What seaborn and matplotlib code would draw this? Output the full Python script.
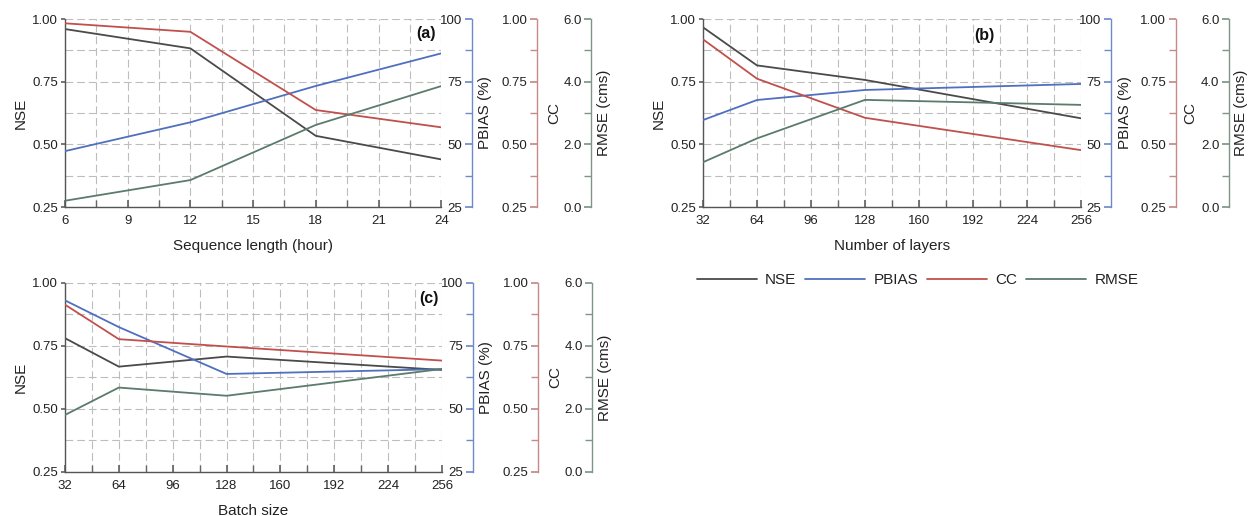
import numpy as np
import pandas as pd
import matplotlib
matplotlib.use("Agg")
import matplotlib.pyplot as plt
import seaborn as sns
from matplotlib.ticker import MultipleLocator, FormatStrFormatter
from matplotlib.lines import Line2D

# ---------------- data ----------------
seq_len = [6, 12, 18, 24]
nse_a = [0.960, 0.883, 0.534, 0.440]
pbias_a = [47.3, 58.8, 73.3, 86.3]
cc_a = [0.983, 0.949, 0.637, 0.568]
rmse_a = [0.20, 0.86, 2.62, 3.86]

layers = [32, 64, 128, 256]
nse_b = [0.967, 0.815, 0.757, 0.604]
pbias_b = [59.7, 67.7, 71.7, 74.1]
cc_b = [0.919, 0.762, 0.606, 0.477]
rmse_b = [1.43, 2.19, 3.42, 3.26]

batch = [32, 64, 128, 256]
nse_c = [0.781, 0.668, 0.708, 0.655]
pbias_c = [93.1, 82.5, 63.9, 65.8]
cc_c = [0.914, 0.777, 0.748, 0.692]
rmse_c = [1.81, 2.68, 2.42, 3.27]

series_names = ["NSE", "PBIAS", "CC", "RMSE"]

# ---------------- style ----------------
sns.set_theme(style="white")
plt.rcParams["font.family"] = ["Liberation Sans", "DejaVu Sans"]

C_NSE = "#4a4a4a"
C_PB = "#4f6fbf"
C_CC = "#c0504d"
C_RM = "#5b7b6b"
C_PB_SP = "#6f8acb"
C_CC_SP = "#c68a88"
C_RM_SP = "#7f9588"
GRID = "#bdbdbd"
TXT = "#222222"
LW = 1.3
TICK_FS = 9.5
LAB_FS = 11

fig = plt.figure(figsize=(12.52, 5.16), dpi=100)


def panel(rect, x, nse, pbias, cc, rmse, xmaj, xlabel, tag, tagpos, extra_pos):
    ax = fig.add_axes(rect)
    ax.set_facecolor("white")
    df = pd.DataFrame({"x": x, "NSE": nse})
    sns.lineplot(data=df, x="x", y="NSE", ax=ax, color=C_NSE, lw=LW)
    ax.set_xlim(x[0], x[-1])
    ax.set_ylim(0.25, 1.0)
    ax.xaxis.set_major_locator(MultipleLocator(xmaj))
    ax.xaxis.set_minor_locator(MultipleLocator(xmaj / 2))
    ax.yaxis.set_major_locator(MultipleLocator(0.25))
    ax.yaxis.set_minor_locator(MultipleLocator(0.125))
    ax.yaxis.set_major_formatter(FormatStrFormatter("%.2f"))
    ax.grid(True, which="both", color=GRID, lw=0.8, linestyle=(0, (7, 3.5)))
    for s in ["top", "right"]:
        ax.spines[s].set_visible(False)
    for s in ["left", "bottom"]:
        ax.spines[s].set_color("#555555")
        ax.spines[s].set_linewidth(1.0)
    ax.set_xlabel(xlabel, fontsize=LAB_FS, color=TXT, labelpad=9)
    ax.set_ylabel("NSE", fontsize=LAB_FS, color=TXT, labelpad=3)
    ax.text(tagpos[0], tagpos[1], tag, transform=ax.transAxes, ha="right", va="center",
            fontsize=11.5, fontweight="bold", color="#111111")

    specs = [
        (pbias, (25, 100), 25, "%d", C_PB, C_PB_SP, "PBIAS (%)", extra_pos[0]),
        (cc, (0.25, 1.0), 0.25, "%.2f", C_CC, C_CC_SP, "CC", extra_pos[1]),
        (rmse, (0.0, 6.0), 2.0, "%.1f", C_RM, C_RM_SP, "RMSE (cms)", extra_pos[2]),
    ]
    for vals, lim, maj, fmt, col, spcol, lab, (sx, lx) in specs:
        t = ax.twinx()
        d = pd.DataFrame({"x": x, "v": vals})
        sns.lineplot(data=d, x="x", y="v", ax=t, color=col, lw=LW)
        t.set_ylim(*lim)
        t.set_xlim(x[0], x[-1])
        for s in t.spines.values():
            s.set_visible(False)
        t.spines["left"].set_visible(True)
        t.spines["left"].set_position(("axes", sx))
        t.spines["left"].set_color(spcol)
        t.spines["left"].set_linewidth(1.0)
        t.yaxis.set_ticks_position("left")
        t.yaxis.set_major_locator(MultipleLocator(maj))
        t.yaxis.set_minor_locator(MultipleLocator(maj / 2))
        t.yaxis.set_major_formatter(FormatStrFormatter(fmt))
        t.tick_params(axis="y", which="both", direction="out", length=5, color=spcol,
                      labelsize=TICK_FS, labelcolor=TXT, pad=2)
        t.grid(False)
        t.set_ylabel(lab, fontsize=LAB_FS, color=TXT)
        t.yaxis.set_label_coords(lx, 0.5)
        t.set_xlabel("")

    # main-axis ticks (set after twinx, which resets tick positions)
    ax.tick_params(axis="x", which="both", direction="in", length=5, color="#666666",
                   labelsize=TICK_FS, labelcolor=TXT, bottom=True, top=False, pad=5.5)
    ax.tick_params(axis="y", which="major", direction="out", length=3, color="#666666",
                   labelsize=TICK_FS, labelcolor=TXT, left=True, right=False, pad=2)
    ax.tick_params(axis="y", which="minor", left=False, right=False, length=0)
    return ax


W = 0.3005
panel([0.0519, 0.5988, W, 0.3643], seq_len, nse_a, pbias_a, cc_a, rmse_a, 3,
      "Sequence length (hour)", "(a)", (0.985, 0.925),
      [(1.082, 1.098), (1.255, 1.282), (1.399, 1.415)])
panel([0.5615, 0.5988, 0.3019, 0.3643], layers, nse_b, pbias_b, cc_b, rmse_b, 32,
      "Number of layers", "(b)", (0.77, 0.915),
      [(1.079, 1.098), (1.251, 1.27), (1.392, 1.405)])
panel([0.0519, 0.0853, 0.3011, 0.3663], batch, nse_c, pbias_c, cc_c, rmse_c, 32,
      "Batch size", "(c)", (0.99, 0.92),
      [(1.082, 1.098), (1.255, 1.282), (1.399, 1.415)])

handles = [Line2D([], [], color=c, lw=LW) for c in [C_NSE, C_PB, C_CC, C_RM]]
fig.legend(handles, series_names, loc="center", bbox_to_anchor=(0.733, 0.457), ncol=4,
           frameon=False, fontsize=11, handlelength=3.9, handletextpad=0.55,
           columnspacing=0.6, labelcolor=TXT)

fig.savefig("out.png", dpi=100, facecolor="white")
